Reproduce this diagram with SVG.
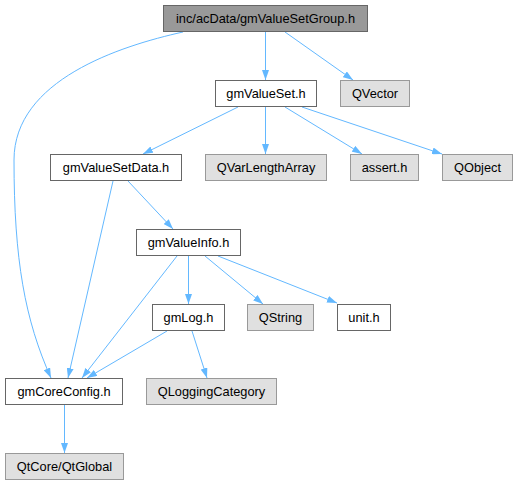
<svg xmlns="http://www.w3.org/2000/svg" width="518" height="485" viewBox="0 0 518 485">
<style>
rect{stroke-width:1}
.n rect{fill:#fff;stroke:#666}
.g rect{fill:#e0e0e0;stroke:#999}
.t rect{fill:#999;stroke:#666}
text{font-family:"Liberation Sans",Arial,sans-serif;font-size:12.8px;text-anchor:middle;fill:#000}
.e path{fill:none;stroke:#63b8ff;stroke-width:1;marker-end:url(#a)}
</style>
<defs>
<marker id="a" viewBox="0 0 10 7" refX="10" refY="3.5" markerWidth="10" markerHeight="7" markerUnits="userSpaceOnUse" orient="auto">
<path d="M0,0 L10,3.5 L0,7 Z" fill="#63b8ff"/>
</marker>
</defs>
<g class="e">
<path d="M265.5,32 L265.5,80"/>
<path d="M285,32 L353,80"/>
<path d="M183,32 C120,46 14,80 14,160 C14,260 25,320 51,378"/>
<path d="M238,107 L143,154"/>
<path d="M265.5,107 L265.5,154"/>
<path d="M285,107 L362,154"/>
<path d="M302,107 L442,154"/>
<path d="M128,181 L173,229"/>
<path d="M113,181 L68,378"/>
<path d="M177,256 L82,378"/>
<path d="M188.5,256 L188.5,304"/>
<path d="M205,256 L263,304"/>
<path d="M218,256 L337,303"/>
<path d="M167,331 L87,378"/>
<path d="M192,331 L207,378"/>
<path d="M64.5,405 L64.5,453"/>
</g>
<g id="n1" class="t"><rect x="163.5" y="5.5" width="204" height="26"/><text x="265.5" y="23">inc/acData/gmValueSetGroup.h</text></g>
<g id="n2" class="n"><rect x="215.5" y="80.5" width="101" height="26"/><text x="266" y="98">gmValueSet.h</text></g>
<g id="n3" class="g"><rect x="340.5" y="80.5" width="69" height="26"/><text x="375" y="98">QVector</text></g>
<g id="n4" class="n"><rect x="50.5" y="154.5" width="131" height="26"/><text x="116" y="172">gmValueSetData.h</text></g>
<g id="n5" class="g"><rect x="205.5" y="154.5" width="121" height="26"/><text x="266" y="172">QVarLengthArray</text></g>
<g id="n6" class="g"><rect x="350.5" y="154.5" width="68" height="26"/><text x="384.5" y="172">assert.h</text></g>
<g id="n7" class="g"><rect x="442.5" y="154.5" width="70" height="26"/><text x="477.5" y="172">QObject</text></g>
<g id="n8" class="n"><rect x="136.5" y="229.5" width="104" height="26"/><text x="188.5" y="247">gmValueInfo.h</text></g>
<g id="n9" class="n"><rect x="152.5" y="304.5" width="72" height="26"/><text x="188.5" y="322">gmLog.h</text></g>
<g id="n10" class="g"><rect x="247.5" y="304.5" width="66" height="26"/><text x="280.5" y="322">QString</text></g>
<g id="n11" class="n"><rect x="337.5" y="304.5" width="53" height="26"/><text x="364" y="322">unit.h</text></g>
<g id="n12" class="n"><rect x="5.5" y="378.5" width="117" height="26"/><text x="64" y="396">gmCoreConfig.h</text></g>
<g id="n13" class="g"><rect x="146.5" y="378.5" width="130" height="26"/><text x="211.5" y="396">QLoggingCategory</text></g>
<g id="n14" class="g"><rect x="5.5" y="453.5" width="118" height="26"/><text x="64.5" y="471">QtCore/QtGlobal</text></g>
</svg>
